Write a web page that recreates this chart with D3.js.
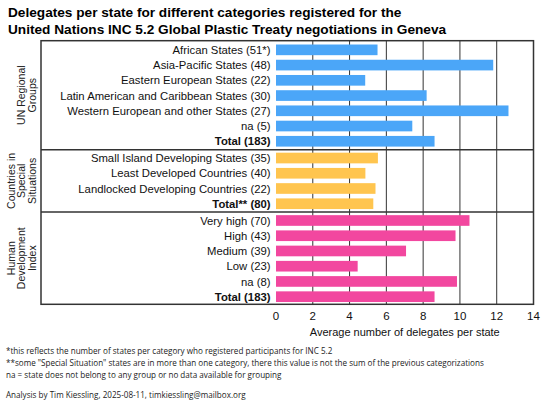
<!DOCTYPE html>
<html>
<head>
<meta charset="utf-8">
<script src="https://cdn.jsdelivr.net/npm/d3@7"></script>
<style>
  html, body { margin: 0; padding: 0; background: #fff; }
  svg { display: block; }
</style>
</head>
<body>
<svg id="chart" width="556" height="403"></svg>
<script>
// ---------- data ----------
const groupNames = [
  ["UN Regional", "Groups"],
  ["Countries in", "Special", "Situations"],
  ["Human", "Development", "Index"]
];
const unCategories = [
  "African States (51*)", "Asia-Pacific States (48)", "Eastern European States (22)",
  "Latin American and Caribbean States (30)", "Western European and other States (27)",
  "na (5)", "Total (183)"
];
const unValues = [5.52, 11.81, 4.85, 8.19, 12.64, 7.41, 8.62];
const cssCategories = [
  "Small Island Developing States (35)", "Least Developed Countries (40)",
  "Landlocked Developing Countries (22)", "Total** (80)"
];
const cssValues = [5.54, 4.86, 5.41, 5.29];
const hdiCategories = [
  "Very high (70)", "High (43)", "Medium (39)", "Low (23)", "na (8)", "Total (183)"
];
const hdiValues = [10.52, 9.76, 7.07, 4.44, 9.84, 8.62];
const xTicks = [0, 2, 4, 6, 8, 10, 12, 14];
const groupColors = ["#4ba6f8", "#ffc54f", "#f2479f"];
const footnotes = [
  "*this reflects the number of states per category who registered participants for INC 5.2",
  "**some \"Special Situation\" states are in more than one category, there this value is not the sum of the previous categorizations",
  "na = state does not belong to any group or no data available for grouping"
];
const credit = "Analysis by Tim Kiessling, 2025-08-11, timkiessling@mailbox.org";

// ---------- build rows ----------
const groups = [
  { cats: unCategories, vals: unValues },
  { cats: cssCategories, vals: cssValues },
  { cats: hdiCategories, vals: hdiValues }
];
const GAP = 0.1;
const rows = [];
let idx = 0;
groups.forEach((g, gi) => {
  g.cats.forEach((c, i) => {
    rows.push({ label: c, value: g.vals[i], group: gi, pos: idx + gi * GAP,
                bold: c.startsWith("Total") });
    idx++;
  });
});

// ---------- layout ----------
const svg = d3.select("#chart");
const boxLeft = 41, plotTop = 40.7, plotBottom = 304.3;
const x = d3.scaleLinear().domain([0, 14]).range([276, 533.5]);
const y = d3.scaleLinear().domain([-0.6, rows[rows.length - 1].pos + 0.5]).range([plotTop, plotBottom]);
const step = y(1) - y(0);
const barH = step * 0.7;
const FONT = "'Liberation Sans', Arial, sans-serif";

// title
const title = svg.append("text").attr("x", 8).attr("font-family", FONT)
  .attr("font-weight", "bold").attr("font-size", 13.65).attr("fill", "#000");
title.append("tspan").attr("x", 8).attr("y", 17).text("Delegates per state for different categories registered for the");
title.append("tspan").attr("x", 8).attr("y", 33.5).text("United Nations INC 5.2 Global Plastic Treaty negotiations in Geneva");

// gridlines
svg.append("g").selectAll("line").data(xTicks.slice(1, -1)).join("line")
  .attr("x1", d => x(d)).attr("x2", d => x(d))
  .attr("y1", plotTop).attr("y2", plotBottom)
  .attr("stroke", "#333").attr("stroke-width", 1);

// bars
svg.append("g").selectAll("rect").data(rows).join("rect")
  .attr("x", x(0))
  .attr("y", d => y(d.pos) - barH / 2)
  .attr("width", d => x(d.value) - x(0))
  .attr("height", barH)
  .attr("fill", d => groupColors[d.group]);

// category labels
svg.append("g").selectAll("text").data(rows).join("text")
  .attr("x", x(0) - 5.5)
  .attr("y", d => y(d.pos))
  .attr("dy", "0.36em")
  .attr("text-anchor", "end")
  .attr("font-family", FONT)
  .attr("font-size", 11.3)
  .attr("font-weight", d => d.bold ? "bold" : "normal")
  .attr("fill", "#111")
  .text(d => d.label);

// group separators
const groupEnds = [];
groups.forEach((g, gi) => {
  const gr = rows.filter(r => r.group === gi);
  groupEnds.push({ first: gr[0].pos, last: gr[gr.length - 1].pos });
});
const sepPos = [];
for (let i = 0; i < groupEnds.length - 1; i++) {
  sepPos.push((groupEnds[i].last + groupEnds[i + 1].first) / 2);
}
svg.append("g").selectAll("line").data(sepPos).join("line")
  .attr("x1", boxLeft).attr("x2", x(14))
  .attr("y1", d => y(d)).attr("y2", d => y(d))
  .attr("stroke", "#333").attr("stroke-width", 1.5);

// outer box
svg.append("rect").attr("x", boxLeft).attr("y", plotTop)
  .attr("width", x(14) - boxLeft).attr("height", plotBottom - plotTop)
  .attr("fill", "none").attr("stroke", "#333").attr("stroke-width", 1.5);

// group labels (rotated)
const bounds = [plotTop, ...sepPos.map(p => y(p)), plotBottom];
groupNames.forEach((lines, gi) => {
  const cy = (bounds[gi] + bounds[gi + 1]) / 2;
  const lastX = 32;
  const lh = 10.3;
  const t = svg.append("text")
    .attr("transform", `translate(0,${cy}) rotate(-90)`)
    .attr("text-anchor", "middle")
    .attr("font-family", FONT).attr("font-size", 10.5).attr("fill", "#222");
  lines.forEach((ln, li) => {
    const xx = lastX - (lines.length - 1 - li) * lh;
    t.append("tspan").attr("x", 0).attr("y", xx).attr("dy", "0.35em").text(ln);
  });
});

// x axis tick labels
svg.append("g").selectAll("text").data(xTicks).join("text")
  .attr("x", d => x(d)).attr("y", 315.5).attr("dy", "0.36em")
  .attr("text-anchor", "middle").attr("font-family", FONT)
  .attr("font-size", 11.5).attr("fill", "#111").text(d => d);

svg.append("text").attr("x", (x(0) + x(14)) / 2).attr("y", 332.5).attr("dy", "0.36em")
  .attr("text-anchor", "middle").attr("font-family", FONT).attr("font-size", 11)
  .attr("fill", "#111").text("Average number of delegates per state");

// footnotes
const FN = "'Open Sans', 'Noto Sans', sans-serif";
const fnY = [351.4, 363.6, 375];
svg.append("g").selectAll("text").data(footnotes).join("text")
  .attr("x", 6).attr("y", (d, i) => fnY[i]).attr("dy", "0.35em")
  .attr("font-family", FN).attr("font-size", 8.1).attr("fill", "#222").text(d => d);
svg.append("text").attr("x", 6).attr("y", 395).attr("dy", "0.35em")
  .attr("font-family", FN).attr("font-size", 8.1).attr("fill", "#222").text(credit);
</script>
</body>
</html>
